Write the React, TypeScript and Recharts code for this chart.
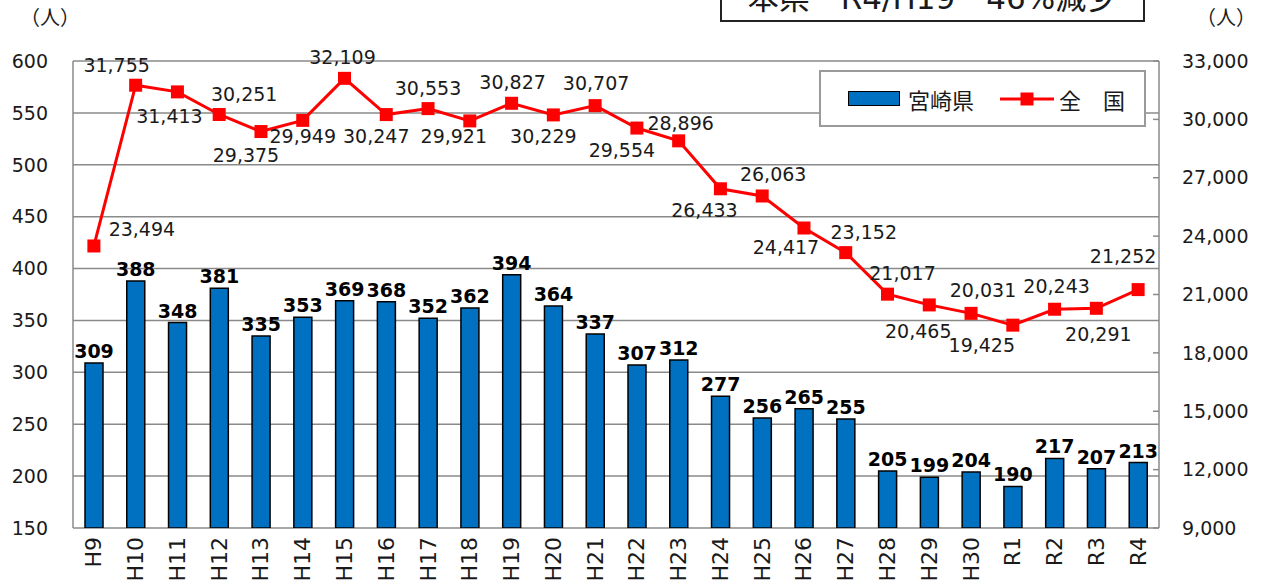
import { ComposedChart, Bar, Line, XAxis, YAxis, CartesianGrid, LabelList, Legend } from 'recharts'

const FONT = '"DejaVu Sans", "Noto Sans CJK JP", sans-serif'
const BLUE = '#0070C0'
const RED = '#FF0000'
const GRID = '#8a8a8a'
const INK = '#1a1a1a'

// 年度
const YEARS = [
  'H9', 'H10', 'H11', 'H12', 'H13', 'H14', 'H15', 'H16', 'H17', 'H18', 'H19', 'H20', 'H21',
  'H22', 'H23', 'H24', 'H25', 'H26', 'H27', 'H28', 'H29', 'H30', 'R1', 'R2', 'R3', 'R4',
]
// 宮崎県（人）
const MIYAZAKI = [
  309, 388, 348, 381, 335, 353, 369, 368, 352, 362, 394, 364, 337,
  307, 312, 277, 256, 265, 255, 205, 199, 204, 190, 217, 207, 213,
]
// 全国（人）
const NATIONAL = [
  23494, 31755, 31413, 30251, 29375, 29949, 32109, 30247, 30553, 29921, 30827, 30229, 30707,
  29554, 28896, 26433, 26063, 24417, 23152, 21017, 20465, 20031, 19425, 20243, 20291, 21252,
]
const LEFT_TICKS = [150, 200, 250, 300, 350, 400, 450, 500, 550, 600]
const RIGHT_TICKS = [9000, 12000, 15000, 18000, 21000, 24000, 27000, 30000, 33000]
const CAT_EDGES = Array.from({ length: YEARS.length + 1 }, (_, i) => i)

// where each national label sits relative to its marker (dx, dy)
const LABEL_OFFSET: [number, number][] = [
  [48, -17], [-19, -20], [-8, 24], [25, -20], [-15, 23], [0, 16], [-2, -21], [-10, 21],
  [0, -21], [-16, 15], [1, -21], [-10, 21], [1, -23], [-15, 22], [2, -18], [-16, 21],
  [11, -22], [-18, 19], [18, -21], [15, -21], [-11, 26], [12, -23], [-31, 20], [2, -23],
  [2, 26], [-15, -34],
]

const rows = YEARS.map((year, i) => ({ year, pref: MIYAZAKI[i], nation: NATIONAL[i] }))

const fmt = (v: number) => v.toLocaleString('en-US')

function SquareDot(props: any) {
  const { cx, cy } = props
  if (cx == null || cy == null) return null
  return <rect x={cx - 6.5} y={cy - 6.5} width={13} height={13} fill={RED} />
}

function NationLabel(props: any) {
  const { x, y, value, index } = props
  const [dx, dy] = LABEL_OFFSET[index] || [0, -20]
  return (
    <text x={x + dx} y={y + dy} textAnchor="middle" dominantBaseline="central"
      fontFamily={FONT} fontSize={19} fill={INK}>
      {fmt(value)}
    </text>
  )
}

function YearTick(props: any) {
  const { x, y, payload } = props
  return (
    <text x={x} y={y} transform={`rotate(-90, ${x}, ${y})`} textAnchor="end"
      dominantBaseline="central" fontFamily={FONT} fontSize={22} fill={INK}>
      {payload.value}
    </text>
  )
}

function LegendBox() {
  return (
    <div style={{
      width: '100%', height: '100%', boxSizing: 'border-box',
      border: '2px solid #9a9a9a', background: '#fff',
      display: 'flex', alignItems: 'center', fontFamily: FONT, fontSize: 22, color: INK,
    }}>
      <span style={{ display: 'inline-block', width: 50, height: 13, background: BLUE, border: '1.5px solid #000', marginLeft: 27 }} />
      <span style={{ marginLeft: 8 }}>宮崎県</span>
      <svg width={54} height={16} style={{ marginLeft: 26 }}>
        <line x1={0} y1={8} x2={54} y2={8} stroke={RED} strokeWidth={3} />
        <rect x={20.5} y={1.5} width={13} height={13} fill={RED} />
      </svg>
      <span style={{ marginLeft: 5 }}>全　国</span>
    </div>
  )
}

export default function App() {
  return (
    <div style={{ position: 'absolute', left: 0, top: 0, width: 1266, height: 582, overflow: 'hidden', background: '#fff' }}>
      {/* header box, cut off at the top like the source */}
      <div style={{
        position: 'absolute', left: 720, top: -20, width: 425, height: 42, boxSizing: 'border-box',
        border: '2px solid #222', background: '#fff', textAlign: 'center',
        fontFamily: FONT, fontSize: 31, lineHeight: '32px', color: INK,
      }}>
        本県　R4/H19　46%減少
      </div>
      <div style={{ position: 'absolute', left: 20, top: 2, fontFamily: FONT, fontSize: 20, color: INK }}>（人）</div>
      <div style={{ position: 'absolute', left: 1196, top: 2, fontFamily: FONT, fontSize: 20, color: INK }}>（人）</div>

      <ComposedChart width={1266} height={582} data={rows}
        margin={{ top: 61, right: 0, bottom: 0, left: 0 }}>
        <CartesianGrid yAxisId="left" xAxisId="cat" vertical={false} stroke={GRID} strokeWidth={1.5} />
        <XAxis xAxisId="tk" type="number" domain={[0, YEARS.length]} allowDataOverflow ticks={CAT_EDGES}
          height={0} axisLine={{ stroke: GRID, strokeWidth: 1.5 }} tickLine={{ stroke: GRID, strokeWidth: 1.5 }}
          tickSize={-6} tick={() => null} interval={0} />
        <XAxis xAxisId="cat" dataKey="year" height={54} interval={0} axisLine={false} tickLine={false}
          tickSize={0} tickMargin={9} tick={<YearTick />} />
        <YAxis yAxisId="left" orientation="left" width={73} domain={[150, 600]} ticks={LEFT_TICKS}
          allowDataOverflow interval={0} axisLine={{ stroke: GRID, strokeWidth: 1.5 }} tickLine={false}
          tickSize={0} tickMargin={25} tick={{ fontFamily: FONT, fontSize: 19, fill: INK }} />
        <YAxis yAxisId="right" orientation="right" width={107} domain={[9000, 33000]} ticks={RIGHT_TICKS}
          allowDataOverflow interval={0} axisLine={{ stroke: GRID, strokeWidth: 1.5 }}
          tickLine={{ stroke: GRID, strokeWidth: 1.5 }} tickSize={-6} tickMargin={29}
          tickFormatter={fmt} tick={{ fontFamily: FONT, fontSize: 19, fill: INK }} />
        <Legend layout="vertical" align="center" verticalAlign="middle" content={<LegendBox />}
          wrapperStyle={{ position: 'absolute', left: 819, top: 70, width: 327, height: 57 }} />
        <Bar xAxisId="cat" yAxisId="left" dataKey="pref" name="宮崎県" fill={BLUE} stroke="#000"
          strokeWidth={1.5} barSize={18} isAnimationActive={false}>
          <LabelList dataKey="pref" position="top" offset={5}
            style={{ fontFamily: FONT, fontSize: 19, fontWeight: 700, fill: '#000' }} />
        </Bar>
        <Line xAxisId="cat" yAxisId="right" dataKey="nation" name="全　国" stroke={RED} strokeWidth={3}
          dot={<SquareDot />} activeDot={false} isAnimationActive={false}>
          <LabelList dataKey="nation" content={<NationLabel />} />
        </Line>
      </ComposedChart>
    </div>
  )
}
